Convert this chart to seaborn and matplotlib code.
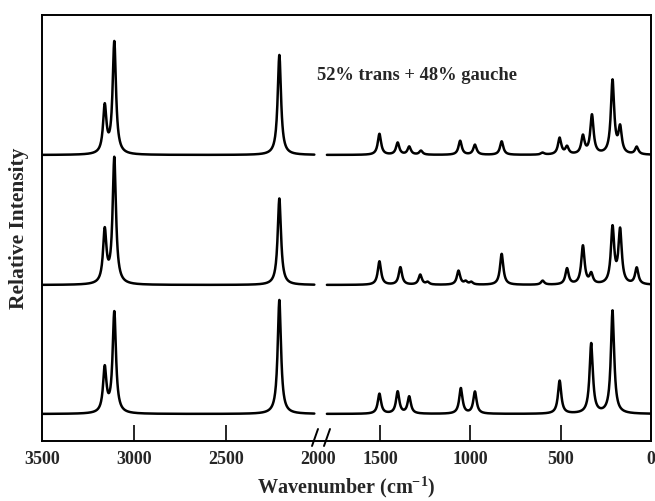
import numpy as np
import pandas as pd
import matplotlib
matplotlib.use("Agg")
import matplotlib.pyplot as plt
import seaborn as sns

# band positions (cm-1) and peak heights (arbitrary units)
top_pos = [3159, 3107, 2210, 1504, 1403, 1339, 1274, 1057, 975, 827, 600,
           506, 465, 377, 327, 213, 171, 79]
top_int = [47, 112, 100, 21, 12, 8, 4, 14, 10, 13.5, 2,
           16.5, 7.5, 18, 39, 73.5, 25.5, 7.5]

mid_pos = [3159, 3107, 2210, 1504, 1388, 1278, 1237, 1066, 1026, 995, 827,
           600, 465, 377, 331, 213, 171, 79]
mid_int = [52.5, 126, 86.5, 23.5, 17.5, 10, 2.5, 14, 3, 2.5, 31,
           4, 16, 38.5, 10, 56, 53.5, 16.5]

bot_pos = [3159, 3107, 2210, 1504, 1403, 1339, 1053, 975, 506, 331, 213]
bot_int = [44.5, 101, 114, 20, 22, 17, 25.5, 22, 33, 70, 103]

offsets = [259, 129, 0]
half_width = 11.0
segments = [(2020, 3500), (0, 1795)]

note = "52% trans + 48% gauche"
xticks = [3500, 3000, 2500, 2000, 1500, 1000, 500, 0]


def build_frame():
    rows = []
    traces = [(top_pos, top_int), (mid_pos, mid_int), (bot_pos, bot_int)]
    for k, (pos, hts) in enumerate(traces):
        for s, (lo, hi) in enumerate(segments):
            wn = np.arange(lo, hi + 0.5, 1.0)
            y = np.zeros_like(wn)
            for p, h in zip(pos, hts):
                y += h / (1 + ((wn - p) / half_width) ** 2)
            rows.append(pd.DataFrame({"wn": wn, "y": y + offsets[k],
                                      "unit": f"{k}-{s}"}))
    return pd.concat(rows, ignore_index=True)


# broken wavenumber axis: 3500-2000 and 1800-0 on one frame
def fwd(w):
    w = np.asarray(w, float)
    return np.where(w <= 1800, w * 325 / 1800,
                    np.where(w <= 2000, 325 + (w - 1800) * 8 / 200,
                             333 + (w - 2000) * 276 / 1500))


def inv(p):
    p = np.asarray(p, float)
    return np.where(p <= 325, p * 1800 / 325,
                    np.where(p <= 333, 1800 + (p - 325) * 200 / 8,
                             2000 + (p - 333) * 1500 / 276))


sns.set_style("white")
plt.rcParams["font.family"] = ["Liberation Serif", "DejaVu Serif"]
plt.rcParams["font.weight"] = "bold"
plt.rcParams["mathtext.fontset"] = "custom"
plt.rcParams["mathtext.rm"] = "Liberation Serif:bold"
plt.rcParams["mathtext.bf"] = "Liberation Serif:bold"
plt.rcParams["mathtext.default"] = "bf"

df = build_frame()

fig = plt.figure(figsize=(6.55, 5.01), dpi=100)
ax = fig.add_axes([42 / 655, 1 - 441 / 501, 609 / 655, 426 / 501])
ax.set_xscale("function", functions=(fwd, inv))

sns.lineplot(data=df, x="wn", y="y", units="unit", estimator=None,
             color="black", linewidth=1.8, legend=False, ax=ax)

ax.set_xlim(3500, 0)
ax.set_ylim(-27, 399)
ax.set_xticks(xticks)
ax.set_xticklabels([str(t) for t in xticks], fontsize=13, fontweight="bold")
ax.minorticks_off()
ax.set_yticks([])
ax.tick_params(axis="x", direction="in", length=11.5, width=1.4, pad=7,
               bottom=True, top=False)
for t in ax.xaxis.get_major_ticks():
    if t.get_loc() in (3500, 2000, 0):
        t.tick1line.set_visible(False)

for sp in ax.spines.values():
    sp.set_linewidth(1.4)
    sp.set_color("black")

ax.set_xlabel("Wavenumber (cm$^{-1}$)", fontsize=14.5,
              fontweight="bold", labelpad=5)
ax.set_ylabel("Relative Intensity", fontsize=15.5, fontweight="bold",
              labelpad=9)

ax.text((317 - 42) / 609, (441 - 75) / 426, note, transform=ax.transAxes,
        fontsize=13.3, fontweight="bold", ha="left", va="center")

# break marks on the bottom axis
for px in (315, 327):
    xs = [(px - 3 - 42) / 609, (px + 3 - 42) / 609]
    ys = [-5 / 426, 12 / 426]
    ax.plot(xs, ys, color="black", linewidth=1.4, transform=ax.transAxes,
            clip_on=False)

fig.savefig("out.png", dpi=100)
